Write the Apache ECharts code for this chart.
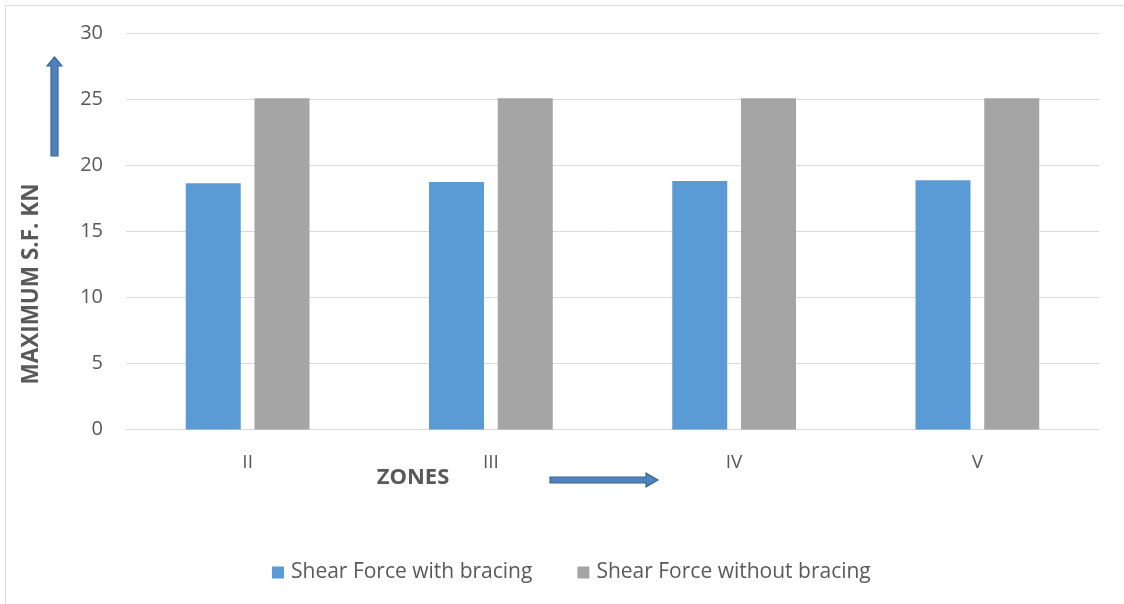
<!DOCTYPE html>
<html><head><meta charset="utf-8">
<script src="https://cdn.jsdelivr.net/npm/echarts@6/dist/echarts.min.js"></script>
<style>html,body{margin:0;padding:0;background:#fff}#c{width:1124px;height:604px}</style>
</head><body><div id="c"></div>
<script>
const categories = ['II', 'III', 'IV', 'V'];
const withBracing = [18.65, 18.75, 18.83, 18.88];
const withoutBracing = [25.1, 25.1, 25.1, 25.1];
const yTicks = { min: 0, max: 30, interval: 5 };

const FONT = 'Open Sans';
const chart = echarts.init(document.getElementById('c'));
const arrowFill = '#4f81bd', arrowStroke = '#3a6796';
chart.setOption({
  animation: false,
  grid: { left: 126, right: 25, top: 33.5, bottom: 174.5 },
  legend: {
    top: 557, left: 267, itemWidth: 12, itemHeight: 12, itemGap: 45,
    icon: 'rect',
    textStyle: { fontFamily: FONT, fontSize: 21, color: '#595959', padding: [0, 0, 0, 2] },
    data: ['Shear Force with bracing', 'Shear Force without bracing']
  },
  xAxis: {
    type: 'category', data: categories,
    axisLine: { lineStyle: { color: '#d9d9d9', width: 1 } },
    axisTick: { show: false },
    axisLabel: { fontFamily: FONT, fontSize: 19, color: '#595959', margin: 24 }
  },
  yAxis: {
    type: 'value', min: yTicks.min, max: yTicks.max, interval: yTicks.interval,
    axisLine: { show: false }, axisTick: { show: false },
    splitLine: { lineStyle: { color: '#d9d9d9', width: 1 } },
    axisLabel: { fontFamily: FONT, fontSize: 20, color: '#595959', margin: 23 }
  },
  series: [
    { name: 'Shear Force with bracing', type: 'bar', data: withBracing, barWidth: 55, barGap: '25%',
      itemStyle: { color: '#5b9bd5' } },
    { name: 'Shear Force without bracing', type: 'bar', data: withoutBracing, barWidth: 55,
      itemStyle: { color: '#a5a5a5' } }
  ],
  graphic: [
    { type: 'rect', shape: { x: 5.5, y: 5.5, width: 1130, height: 620 }, style: { fill: 'none', stroke: '#d9d9d9', lineWidth: 1 }, silent: true },
    { type: 'text', x: 32, y: 284, rotation: Math.PI / 2,
      style: { text: 'MAXIMUM S.F. KN', fontFamily: FONT, fontSize: 22.5, fontWeight: 'bold', fill: '#595959', align: 'center', verticalAlign: 'middle' } },
    { type: 'text', x: 413, y: 478,
      style: { text: 'ZONES', fontFamily: FONT, fontSize: 22, fontWeight: 'bold', fill: '#595959', align: 'center', verticalAlign: 'middle' } },
    { type: 'polygon', shape: { points: [[51, 156], [58, 156], [58, 66], [62, 66], [54.5, 57], [47, 66], [51, 66]] },
      style: { fill: arrowFill, stroke: arrowStroke, lineWidth: 1.2 } },
    { type: 'polygon', shape: { points: [[550, 477], [646, 477], [646, 473], [658, 480], [646, 487], [646, 483], [550, 483]] },
      style: { fill: arrowFill, stroke: arrowStroke, lineWidth: 1.2 } }
  ]
});
</script></body></html>
